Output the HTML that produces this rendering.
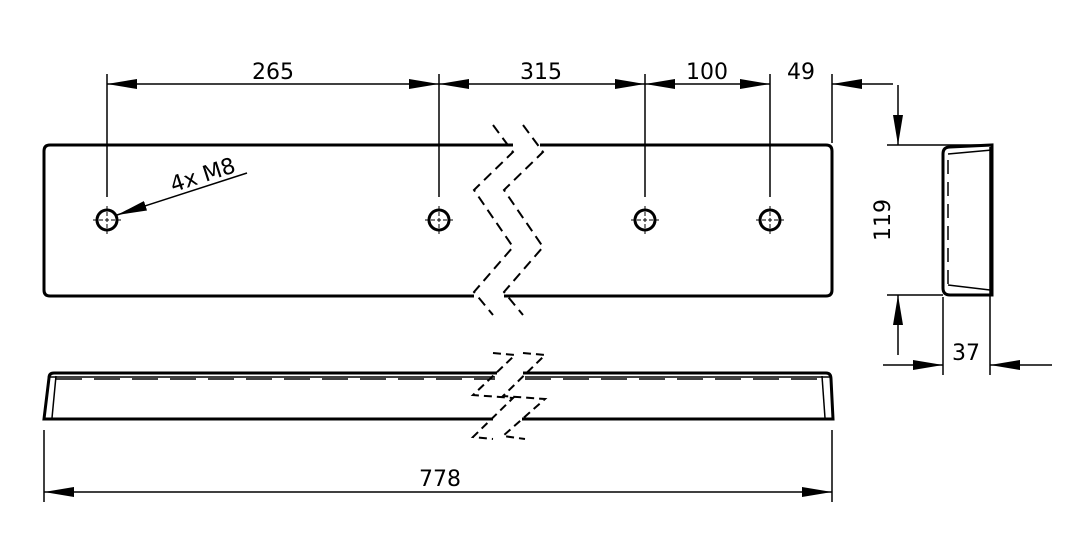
<!DOCTYPE html>
<html><head><meta charset="utf-8"><style>
html,body{margin:0;padding:0;background:#fff;}
svg{display:block;}
text{font-family:"DejaVu Sans","Liberation Sans",sans-serif;font-size:22px;fill:#000;}
</style></head><body>
<svg width="1071" height="554" viewBox="0 0 1071 554" xmlns="http://www.w3.org/2000/svg">
<defs>
<marker id="a" markerWidth="30" markerHeight="10" refX="30" refY="5" orient="auto" markerUnits="userSpaceOnUse">
<path d="M0,0 L30,5 L0,10 Z" fill="#000"/></marker>
</defs>
<g stroke="#000" fill="none">
<!-- top dimensions -->
<g stroke-width="1.5">
<line x1="107" y1="74" x2="107" y2="197"/>
<line x1="439" y1="74" x2="439" y2="197"/>
<line x1="645" y1="74" x2="645" y2="197"/>
<line x1="770" y1="74" x2="770" y2="197"/>
<line x1="832" y1="74" x2="832" y2="143"/>
<line x1="273" y1="84" x2="107" y2="84" marker-end="url(#a)"/>
<line x1="273" y1="84" x2="439" y2="84" marker-end="url(#a)"/>
<line x1="541" y1="84" x2="439" y2="84" marker-end="url(#a)"/>
<line x1="541" y1="84" x2="645" y2="84" marker-end="url(#a)"/>
<line x1="707" y1="84" x2="645" y2="84" marker-end="url(#a)"/>
<line x1="707" y1="84" x2="770" y2="84" marker-end="url(#a)"/>
<line x1="893" y1="84" x2="832" y2="84" marker-end="url(#a)"/>
<!-- leader -->
<line x1="247" y1="173" x2="117" y2="215" marker-end="url(#a)"/>
</g>
<!-- top view -->
<g stroke-width="3">
<path d="M513,145 L50,145 Q44,145 44,151 L44,290 Q44,296 50,296 L474,296"/>
<path d="M540,145 L826,145 Q832,145 832,151 L832,290 Q832,296 826,296 L504,296"/>
<circle cx="107" cy="220" r="10"/><circle cx="439" cy="220" r="10"/>
<circle cx="645" cy="220" r="10"/><circle cx="770" cy="220" r="10"/>
</g>
<g stroke-width="1">
<path d="M93,220h28M107,206v28M425,220h28M439,206v28M631,220h28M645,206v28M756,220h28M770,206v28" stroke-dasharray="4,2"/>
</g>
<g stroke-width="2" stroke-dasharray="10,6">
<path d="M493,125 L513,152 L474,190 L513,247 L474,292 L493,315"/>
<path d="M523,125 L543,152 L504,190 L543,247 L504,292 L523,315"/>
</g>
<!-- bottom view -->
<g stroke-width="3">
<path d="M497,373 L54,373 Q49,373 49,378 L44,419 L493,419"/>
<path d="M523,373 L826,373 Q831,373 831,379 L833,419 L522,419"/>
</g>
<g stroke-width="1.5">
<line x1="56" y1="376" x2="52" y2="418"/><line x1="822" y1="376" x2="825" y2="418"/>
<line x1="50" y1="377" x2="495" y2="377"/><line x1="525" y1="377" x2="830" y2="377"/>
<line x1="56" y1="379" x2="495" y2="379" stroke-dasharray="26,12"/>
<line x1="525" y1="379" x2="822" y2="379" stroke-dasharray="26,12"/>
</g>
<g stroke-width="2" stroke-dasharray="8,5">
<path d="M493,353 L515,355 L473,395 L513,398 L473,437 L493,439"/>
<path d="M523,353 L545,355 L503,396 L545,399 L503,436 L525,439"/>
</g>
<!-- bottom dim -->
<g stroke-width="1.5">
<line x1="44" y1="430" x2="44" y2="502"/><line x1="832" y1="430" x2="832" y2="502"/>
<line x1="440" y1="492" x2="44" y2="492" marker-end="url(#a)"/>
<line x1="440" y1="492" x2="832" y2="492" marker-end="url(#a)"/>
</g>
<!-- side view -->
<g stroke-width="3">
<path d="M992,145 L992,295 L950,295 Q943,295 943,288 L943,154 Q943,147 950,147 Z"/>
</g>
<g stroke-width="1.5">
<line x1="948" y1="154" x2="992" y2="150"/><line x1="948" y1="285" x2="990" y2="290"/>
<line x1="948" y1="160" x2="948" y2="285" stroke-dasharray="14,8"/>
<line x1="887" y1="145" x2="990" y2="145"/><line x1="887" y1="295" x2="943" y2="295"/>
<line x1="898" y1="85" x2="898" y2="145" marker-end="url(#a)"/>
<line x1="898" y1="355" x2="898" y2="295" marker-end="url(#a)"/>
<line x1="943" y1="297" x2="943" y2="375"/><line x1="990" y1="147" x2="990" y2="375"/>
<line x1="883" y1="365" x2="943" y2="365" marker-end="url(#a)"/>
<line x1="1052" y1="365" x2="990" y2="365" marker-end="url(#a)"/>
</g>
</g>
<text x="273" y="79" text-anchor="middle">265</text>
<text x="541" y="79" text-anchor="middle">315</text>
<text x="707" y="79" text-anchor="middle">100</text>
<text x="801" y="79" text-anchor="middle">49</text>
<text x="440" y="486" text-anchor="middle">778</text>
<text x="966" y="360" text-anchor="middle">37</text>
<text x="0" y="0" text-anchor="middle" transform="translate(890,220) rotate(-90)">119</text>
<text x="0" y="0" text-anchor="middle" transform="translate(205,182) rotate(-18)">4x M8</text>
</svg>
</body></html>
